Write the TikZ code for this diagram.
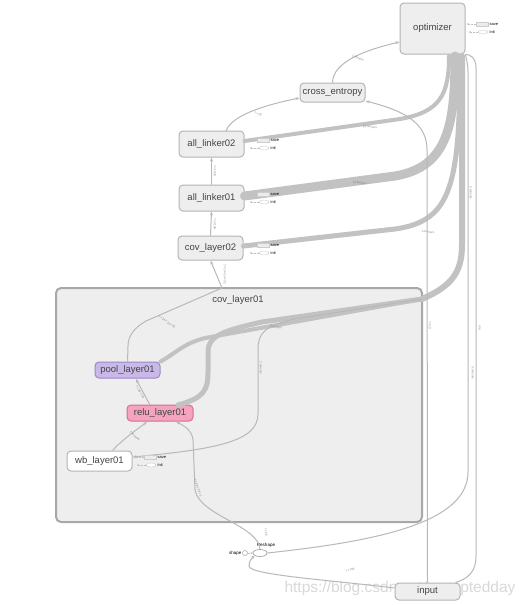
\documentclass[tikz,border=0pt]{standalone}
\usepackage{fontspec}
\setmainfont{Liberation Sans}
\usetikzlibrary{arrows.meta,shapes.geometric}
\definecolor{nodefill}{HTML}{EEEEEE}
\definecolor{nodeline}{HTML}{B4B4B4}
\definecolor{clusterfill}{HTML}{EEEEEE}
\definecolor{clusterline}{HTML}{A8A8A8}
\definecolor{edgethick}{HTML}{C2C2C2}
\definecolor{edgethin}{HTML}{B8B8B8}
\definecolor{poolfill}{HTML}{C9B9E8}
\definecolor{poolline}{HTML}{9C88C6}
\definecolor{relufill}{HTML}{F5A3BE}
\definecolor{reluline}{HTML}{D2708F}
\definecolor{txt}{HTML}{444444}
\tikzset{
  opbox/.style={draw=nodeline, fill=nodefill, line width=1pt, rounded corners=4pt,
    minimum width=65pt, inner sep=0pt, text=txt, font=\fontsize{9.5}{10}\selectfont},
  thick edge/.style={draw=edgethick, line cap=round},
  thin edge/.style={draw=edgethin, line width=1pt},
  arr/.style={-{Stealth[length=4pt,width=3pt]}},
  lbl/.style={font=\fontsize{3}{3}\selectfont, text=gray, inner sep=0.5pt},
  tiny/.style={font=\fontsize{4.5}{5}\selectfont, text=black, inner sep=0.5pt},
  saverect/.style={draw=gray!40, fill=gray!15, minimum width=12pt, minimum height=4pt, inner sep=0pt},
  initell/.style={draw=gray!40, fill=white, ellipse, minimum width=10pt, minimum height=4pt, inner sep=0pt},
  ctrl/.style={draw=gray!50, densely dotted, line width=0.5pt, -{Stealth[length=2pt,width=2pt]}}
}
\begin{document}
\begin{tikzpicture}[x=1pt,y=-1pt]
\useasboundingbox (0,0) rectangle (527,605);
\fill[white] (0,0) rectangle (527,605);

% cluster
\node[draw=clusterline, fill=clusterfill, line width=2pt, rounded corners=5pt,
  minimum width=366pt, minimum height=234pt, inner sep=0pt] (cl) at (239,405) {};
\node[text=txt, font=\fontsize{9.5}{10}\selectfont] (cllab) at (238,300) {cov\_layer01};
\coordinate (clc) at (422,299);
\coordinate (clt) at (222,288);

% watermark
\node[text=gray!30, font=\fontsize{15.5}{16}\selectfont] (wm) at (400,588) {https://blog.csdn.net/acceptedday};

% nodes
\node[opbox, minimum height=51pt] (opt) at (432.5,28.5) {optimizer};
\node[opbox, minimum height=19pt] (ce) at (332.5,92.5) {cross\_entropy};
\node[opbox, minimum height=26pt] (l2) at (211.5,144) {all\_linker02};
\node[opbox, minimum height=26pt] (l1) at (211.5,198) {all\_linker01};
\node[opbox, minimum height=24pt] (c2) at (210.5,248) {cov\_layer02};
\node[opbox, minimum height=16pt, fill=poolfill, draw=poolline] (pool) at (127.5,370) {pool\_layer01};
\node[opbox, minimum height=16pt, fill=relufill, draw=reluline, minimum width=66pt] (relu) at (160,413) {relu\_layer01};
\node[opbox, minimum height=20pt, fill=white] (wb) at (99.5,461) {wb\_layer01};
\node[opbox, minimum height=17pt] (inp) at (427.5,591.5) {input};
\node[draw=gray!70, fill=white, ellipse, minimum width=14pt, minimum height=7pt, inner sep=0pt, line width=0.7pt] (rs) at (260,553) {};
\node[tiny] (rslab) at (266,545) {Reshape};
\node[draw=gray!70, circle, minimum size=5pt, inner sep=0pt, line width=0.5pt] (shp) at (245,553) {};
\node[tiny, anchor=east] (shplab) at (242,553) {shape};

% thick edges to optimizer
\draw[thick edge, line width=4pt] (l2.east |- 0,141) coordinate (a2) -- (400,119) .. controls (440,112) and (449,95) .. (449,56);
\draw[thick edge, line width=9pt] (l1.east |- 0,196) -- (395,176) .. controls (448,167) and (455,125) .. (455,56);
\draw[thick edge, line width=5pt] (c2.east |- 0,246) -- (395,229) .. controls (452,221) and (460,185) .. (460,56);
\draw[thick edge, line width=6pt] (clc) .. controls (452,286) and (462,272) .. (462,245) -- (462,56);
\node[lbl, rotate=-7] (t1) at (370,127) {12 tensors};
\node[lbl, rotate=-7] (t2) at (360,183) {12 tensors};
\node[lbl, rotate=-5] (t3) at (428,232) {4 tensors};

% thick edges inside cluster
\draw[thick edge, line width=4pt] (pool.north east) .. controls (175,354) and (182,344) .. (205,338) -- (clc);
\draw[thick edge, line width=5pt] (178,405) .. controls (204,398) and (208,390) .. (208,372) -- (208,352) .. controls (208,336) and (222,331) .. (262,322) -- (clc);
\node[lbl, rotate=-12] (t4) at (276,327) {4 tensors};

% thin edges
\draw[thin edge, arr] (ce.north) .. controls (333,62) and (365,50) .. (opt.west |- 0,42);
\node[lbl, rotate=-25] (t5) at (358,58) {1 tensors};
\draw[thin edge, arr] (226,131) .. controls (232,114) and (270,104) .. (ce.west |- 0,98);
\node[lbl, rotate=-20] (t6) at (258,114) {?\,×\,10};
\draw[thin edge, arr] (inp.north) -- (427,150) .. controls (427,126) and (410,112) .. (ce.east |- 0,101);
\node[lbl, rotate=-90] (t7) at (430,325) {?\,×\,10};
\draw[thin edge, arr] (l1.north) -- (l2.south);
\node[lbl, rotate=-90] (t8) at (215,171) {?\,×\,1024};
\draw[thin edge, arr] (c2.north) -- (l1.south);
\node[lbl, rotate=-90] (t9) at (215,224) {?\,×\,3136};
\draw[thin edge, arr] (pool.north) -- (128,346) .. controls (128,336) and (134,328) .. (146,321) -- (clt) -- (c2.south);
\node[lbl, rotate=-90] (t10) at (225,274) {?\,×\,14\,×\,14\,×\,32};
\node[lbl, rotate=-35] (t11) at (167,322) {?\,×\,14\,×\,14\,×\,32};
\draw[thin edge, arr] (150,405) -- (136,379);
\node[lbl, rotate=-58] (t12) at (140,392) {?\,×\,28\,×\,28};
\draw[thin edge, arr] (wb.north) ++(13,0) .. controls (122,440) and (136,430) .. (147,422);
\node[lbl, rotate=-40] (t13) at (135,436) {2 tensors};
\draw[thin edge, arr] (clc) -- (295,319) .. controls (263,326) and (258,334) .. (258,350) -- (258,414) .. controls (258,441) and (218,449) .. (wb.east |- 0,457);
\node[lbl, rotate=-90] (t14) at (261,368) {2 tensors};
\draw[thin edge, arr] (rs.north) .. controls (258,525) and (200,516) .. (195,490) -- (193,440) .. controls (192,429) and (182,425) .. (176,421.5);
\node[lbl, rotate=-70] (t15) at (198,488) {?\,×\,28\,×\,28\,×\,1};
\node[lbl, rotate=-80] (t16) at (266,532) {?\,×\,28};
\draw[thin edge, arr] (inp.west |- 0,588) .. controls (330,580) and (249,575) .. (249,566) .. controls (249,561) and (252,558) .. (rs.south west);
\node[lbl, rotate=15] (t17) at (350,570) {?\,×\,784};
\draw[thin edge] (rs.east) .. controls (380,541) and (468,522) .. (468,472) -- (468,72) .. controls (468,63) and (466,58) .. (opt.south east);
\node[lbl, rotate=-90] (t18) at (471,193) {3 tensors};
\draw[thin edge] (inp.north east) ++(-5,0) .. controls (470,578) and (476,570) .. (476,556) -- (476,68) .. controls (476,58) and (470,54) .. (opt.south east);
\node[lbl, rotate=-90] (t19) at (473,373) {3 tensors};
\node[lbl, rotate=-90] (t20) at (480,328) {n/a};
\draw[ctrl, densely dotted] (shp.east) -- (rs.west);

% save / init markers
\foreach \n/\x/\y in {opt/482/24, l2/263/140, l1/263/194, c2/263/245, wb/150/457} {
  \node[saverect] (\n save) at (\x,\y) {};
  \node[tiny, anchor=west, font=\fontsize{4}{4}\selectfont] (\n savet) at (\x+7,\y) {save};
  \node[initell] (\n init) at (\x+1,\y+8) {};
  \node[tiny, anchor=west, font=\fontsize{4}{4}\selectfont] (\n initt) at (\x+7,\y+8) {init};
  \draw[ctrl] (\n save.west) -- ++(-9,0);
  \draw[ctrl] (\n init.west) -- ++(-9,0);
}
\end{tikzpicture}
\end{document}
